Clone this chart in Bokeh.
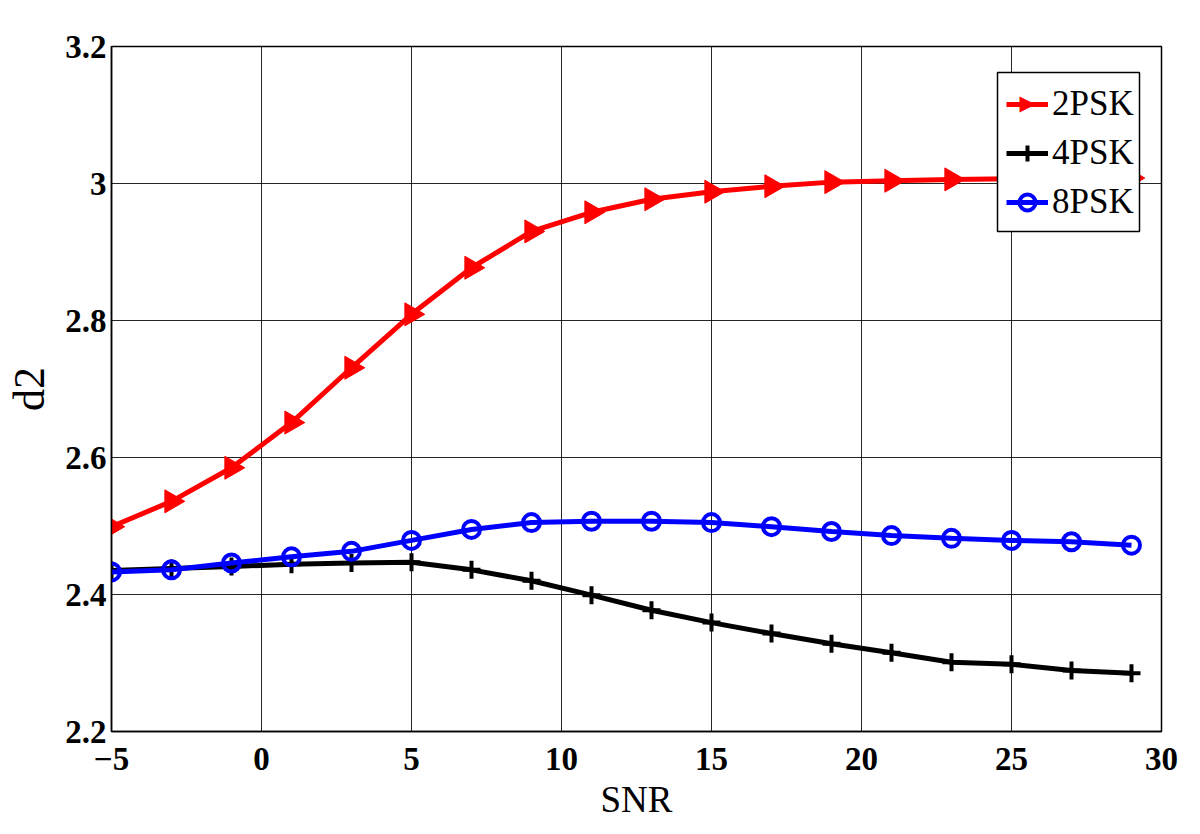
import math
from bokeh.plotting import figure
from bokeh.models import Range1d, FixedTicker, Legend, LegendItem, Label, BoxAnnotation
from bokeh.embed import file_html
from bokeh.resources import INLINE

snr = [-5, -3, -1, 1, 3, 5, 7, 9, 11, 13, 15, 17, 19, 21, 23, 25, 27, 29]
psk2 = [2.499, 2.536, 2.585, 2.651, 2.731, 2.809, 2.877, 2.930, 2.958, 2.977,
        2.988, 2.996, 3.002, 3.004, 3.006, 3.007, 3.008, 3.008]
psk4 = [2.435, 2.438, 2.441, 2.444, 2.446, 2.447, 2.436, 2.420, 2.399, 2.377,
        2.359, 2.343, 2.328, 2.315, 2.301, 2.298, 2.289, 2.285]
psk8 = [2.433, 2.436, 2.446, 2.455, 2.463, 2.479, 2.495, 2.505, 2.507, 2.507,
        2.505, 2.499, 2.492, 2.486, 2.482, 2.479, 2.477, 2.472]

x_ticks = [-5, 0, 5, 10, 15, 20, 25, 30]
y_ticks = [2.2, 2.4, 2.6, 2.8, 3.0, 3.2]
y_labels = {2.2: "2.2", 2.4: "2.4", 2.6: "2.6", 2.8: "2.8", 3.0: "3", 3.2: "3.2"}
series_names = ["2PSK", "4PSK", "8PSK"]

FONT = "Liberation Serif"

p = figure(frame_width=1050, frame_height=685, output_backend="svg",
           toolbar_location=None, x_range=Range1d(-5, 30), y_range=Range1d(2.2, 3.2),
           min_border_left=111, min_border_top=46, min_border_right=20, min_border_bottom=82)

p.background_fill_color = "white"
p.border_fill_color = "white"
p.outline_line_color = "black"
p.outline_line_width = 1.5

p.xaxis.ticker = FixedTicker(ticks=x_ticks)
p.yaxis.ticker = FixedTicker(ticks=y_ticks)
p.yaxis.major_label_overrides = y_labels

for ax in (p.xaxis, p.yaxis):
    ax.axis_line_color = "black"
    ax.axis_line_width = 1.5
    ax.major_tick_in = 0
    ax.major_tick_out = 0
    ax.minor_tick_in = 0
    ax.minor_tick_out = 0
    ax.major_label_text_font = FONT
    ax.major_label_text_font_style = "bold"
    ax.major_label_text_font_size = "33px"
    ax.major_label_text_color = "black"
    ax.axis_label_text_font = FONT
    ax.axis_label_text_font_style = "normal"
    ax.axis_label_text_color = "black"

p.xaxis.axis_label = "SNR"
p.xaxis.axis_label_text_font_size = "37px"
p.xaxis.major_label_standoff = 16
p.xaxis.axis_label_standoff = 6
p.yaxis.axis_label = "d2"
p.yaxis.axis_label_text_font_size = "44px"
p.yaxis.major_label_standoff = 5
p.yaxis.axis_label_standoff = 8

p.grid.grid_line_color = "black"
p.grid.grid_line_width = 1
p.grid.grid_line_alpha = 0.85

r2l = p.line(snr, psk2, line_color="red", line_width=5)
r2m = p.scatter(snr, psk2, marker="triangle", angle=-math.pi / 2, size=23,
                fill_color="red", line_color="red", line_width=1)
r4l = p.line(snr, psk4, line_color="black", line_width=5)
r4m = p.scatter(snr, psk4, marker="cross", size=18, line_color="black", line_width=4)
r8l = p.line(snr, psk8, line_color="blue", line_width=5)
r8m = p.scatter(snr, psk8, marker="circle", size=17, fill_color=None,
                line_color="blue", line_width=4)

# legend box (white background with black border)
box = BoxAnnotation(left=886, right=1028, bottom=500, top=659,
                    left_units="screen", right_units="screen",
                    bottom_units="screen", top_units="screen",
                    fill_color="white", fill_alpha=1.0,
                    line_color="black", line_width=1.5, line_alpha=1.0,
                    editable=False)
p.add_layout(box, "center")

# right-pointing triangle marker for the 2PSK legend entry
tri = Label(x=916, y=629, x_units="screen", y_units="screen", text="\u25B6",
            text_font="DejaVu Sans", text_font_size="21px", text_color="red",
            text_align="center", text_baseline="middle")
p.add_layout(tri, "center")

legend = Legend(items=[
    LegendItem(label=series_names[0], renderers=[r2l]),
    LegendItem(label=series_names[1], renderers=[r4l, r4m]),
    LegendItem(label=series_names[2], renderers=[r8l, r8m]),
], location=(886, 500))
legend.label_text_font = FONT
legend.label_text_font_size = "35px"
legend.label_text_color = "black"
legend.glyph_width = 42
legend.glyph_height = 40
legend.label_height = 40
legend.label_standoff = 4
legend.spacing = 9
legend.padding = 9
legend.margin = 0
legend.border_line_alpha = 0
legend.background_fill_alpha = 0
p.add_layout(legend, "center")

open("out.html", "w").write(file_html(p, INLINE))
